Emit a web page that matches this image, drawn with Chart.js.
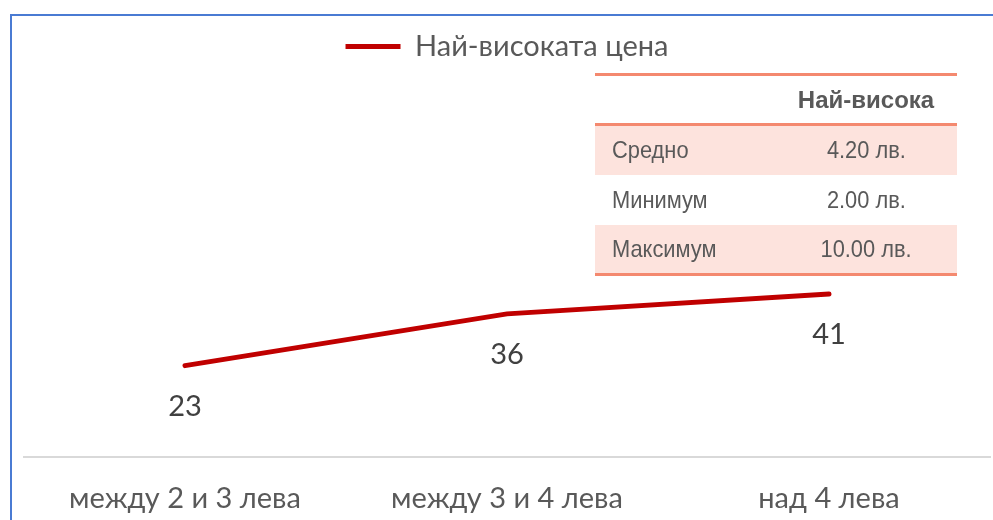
<!DOCTYPE html>
<html lang="bg">
<head>
<meta charset="UTF-8">
<title>Най-високата цена</title>
<script src="https://cdn.jsdelivr.net/npm/chart.js@4.4.1/dist/chart.umd.min.js"></script>
<style>
    * { margin: 0; padding: 0; box-sizing: border-box; }
    body { width: 993px; height: 520px; overflow: hidden; background: #fff; position: relative; }
    .frame {
        position: absolute; left: 10px; top: 14px; width: 1000px; height: 520px;
        border-left: 2px solid #4a7bd3; border-top: 2px solid #4a7bd3;
    }
    /* canvas runs a bit past the bottom edge, the window clips it */
    .chart-box { position: absolute; left: 0; top: 0; width: 993px; height: 544px; }
    #stats {
        position: absolute; left: 595px; top: 73px; width: 362px;
        border-collapse: collapse;
        font-family: "Liberation Sans Narrow", "Arial Narrow", "Liberation Sans", sans-serif;
        font-size: 24px; color: #595959;
        border-top: 3px solid #f4896f; border-bottom: 3px solid #f4896f;
    }
    #stats th, #stats td { height: 50px; padding: 0; }
    #stats thead tr { border-bottom: 3px solid #f4896f; }
    #stats th { font-weight: bold; text-align: center; }
    #stats td:first-child { padding-left: 17px; text-align: left; width: 180px; }
    #stats td:last-child { text-align: center; }
    #stats td span { display: inline-block; transform: scaleX(0.91); }
    #stats td:first-child span { transform-origin: left center; }
    #stats tbody tr:nth-child(odd) { background: #fde3dd; }
</style>
</head>
<body>
<div class="frame"></div>
<div class="chart-box"><canvas id="priceChart"></canvas></div>
<table id="stats">
    <thead><tr><th></th><th id="statHead"></th></tr></thead>
    <tbody id="statBody"></tbody>
</table>
<script>
    const categories = ['между 2 и 3 лева', 'между 3 и 4 лева', 'над 4 лева'];
    const seriesName = 'Най-високата цена';
    const highestCounts = [23, 36, 41];

    const statHeader = 'Най-висока';
    const statLabels = ['Средно', 'Минимум', 'Максимум'];
    const statValues = [4.20, 2.00, 10.00];

    const FONT = 'Lato, "Noto Sans", sans-serif';

    function cell(text) {
        const td = document.createElement('td');
        const span = document.createElement('span');
        span.textContent = text;
        td.appendChild(span);
        return td;
    }

    // table with summary prices
    document.getElementById('statHead').textContent = statHeader;
    const body = document.getElementById('statBody');
    statLabels.forEach((label, i) => {
        const tr = document.createElement('tr');
        tr.appendChild(cell(label));
        tr.appendChild(cell(statValues[i].toFixed(2) + ' лв.'));
        body.appendChild(tr);
    });

    // numbers under each point
    const valueLabels = {
        id: 'valueLabels',
        afterDatasetsDraw(chart) {
            const ctx = chart.ctx;
            const ds = chart.data.datasets[0];
            ctx.save();
            ctx.font = '29px ' + FONT;
            ctx.fillStyle = '#404040';
            ctx.textAlign = 'center';
            ctx.textBaseline = 'middle';
            chart.getDatasetMeta(0).data.forEach((pt, i) => {
                ctx.fillText(String(ds.data[i]), pt.x, pt.y + 41);
            });
            ctx.restore();
        }
    };

    new Chart(document.getElementById('priceChart'), {
        type: 'line',
        data: {
            labels: categories,
            datasets: [{
                label: seriesName,
                data: highestCounts,
                borderColor: '#c00000',
                backgroundColor: '#c00000',
                borderWidth: 5,
                borderCapStyle: 'round',
                pointRadius: 0,
                tension: 0
            }]
        },
        options: {
            responsive: true,
            maintainAspectRatio: false,
            animation: false,
            layout: { padding: { left: 24, right: 3, top: 32, bottom: 4 } },
            plugins: {
                tooltip: { enabled: false },
                legend: {
                    position: 'top',
                    labels: {
                        usePointStyle: true,
                        pointStyle: 'line',
                        pointStyleWidth: 55,
                        padding: 0,
                        color: '#595959',
                        font: { family: FONT, size: 29 }
                    }
                }
            },
            scales: {
                x: {
                    offset: true,
                    grid: { display: false, drawTicks: false },
                    border: { display: true, color: '#d9d9d9', width: 2 },
                    ticks: {
                        color: '#595959',
                        padding: 24,
                        font: { family: FONT, size: 29 }
                    }
                },
                y: { display: false, min: 0, max: 97 }
            }
        },
        plugins: [valueLabels]
    });
</script>
</body>
</html>
